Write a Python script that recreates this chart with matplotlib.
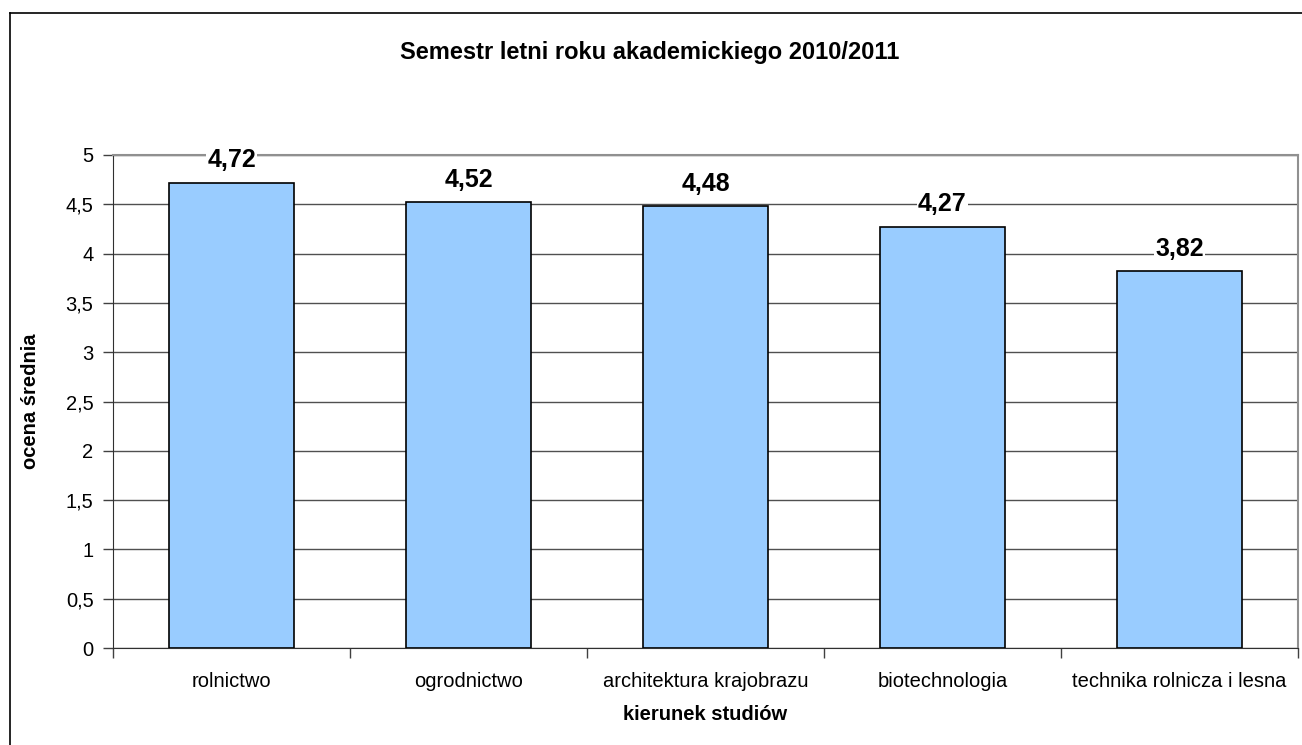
import matplotlib
matplotlib.use("Agg")
import matplotlib.pyplot as plt
from matplotlib.lines import Line2D
from matplotlib.ticker import FuncFormatter, MultipleLocator

plt.rcParams['font.family'] = ['Liberation Sans', 'DejaVu Sans']

kierunki = ["rolnictwo", "ogrodnictwo", "architektura krajobrazu",
            "biotechnologia", "technika rolnicza i lesna"]
oceny = [4.72, 4.52, 4.48, 4.27, 3.82]

W, H = 1302, 745
fig = plt.figure(figsize=(W / 100, H / 100), dpi=100)
ax = fig.add_axes([113 / W, 1 - 648 / H, (1298 - 113) / W, (648 - 155) / H])

x = list(range(len(kierunki)))
ax.bar(x, oceny, width=0.525, color="#99ccff", edgecolor="black", linewidth=1.2, zorder=3)

for xi, v in zip(x, oceny):
    ax.text(xi, v + 0.23, f"{v:.2f}".replace(".", ","), ha="center", va="center",
            fontsize=18, fontweight="bold", zorder=4,
            bbox=dict(facecolor="white", edgecolor="none", pad=1))

ax.set_xlim(-0.5, len(kierunki) - 0.5)
ax.set_ylim(0, 5)
ax.yaxis.set_major_locator(MultipleLocator(0.5))
ax.yaxis.set_major_formatter(FuncFormatter(lambda v, p: f"{v:g}".replace(".", ",")))
ax.yaxis.grid(True, color="#505050", linewidth=1, zorder=0)
ax.set_axisbelow(True)

ax.set_xticks(x)
ax.set_xticklabels(kierunki, fontsize=14.5)
ax.set_xticks([i - 0.5 for i in range(len(kierunki) + 1)], minor=True)
ax.tick_params(axis="x", which="major", length=0, pad=17)
ax.tick_params(axis="x", which="minor", length=7, width=1, color="#404040")
ax.tick_params(axis="y", length=7, width=1, pad=7, labelsize=14.5, color="#404040")

for s in ["top", "right"]:
    ax.spines[s].set_color("#909090")
    ax.spines[s].set_linewidth(1.5)
ax.spines["left"].set_color("#303030")
ax.spines["bottom"].set_color("#303030")

ax.set_ylabel("ocena średnia", fontsize=14.5, fontweight="bold", va="center")
ax.yaxis.set_label_coords((30 - 113) / 1185, 0.5)
ax.set_xlabel("kierunek studiów", fontsize=14.5, fontweight="bold", va="center")
ax.xaxis.set_label_coords(0.5, (648 - 715) / 493)
fig.text(650 / W, 1 - 52 / H, "Semestr letni roku akademickiego 2010/2011",
         ha="center", va="center", fontsize=17, fontweight="bold")

# ramka wykresu
fig.add_artist(Line2D([10 / W, 10 / W], [0, 1 - 13 / H], color="black", linewidth=1.2))
fig.add_artist(Line2D([10 / W, 1], [1 - 13 / H, 1 - 13 / H], color="black", linewidth=1.2))

fig.savefig("out.png", dpi=100)
